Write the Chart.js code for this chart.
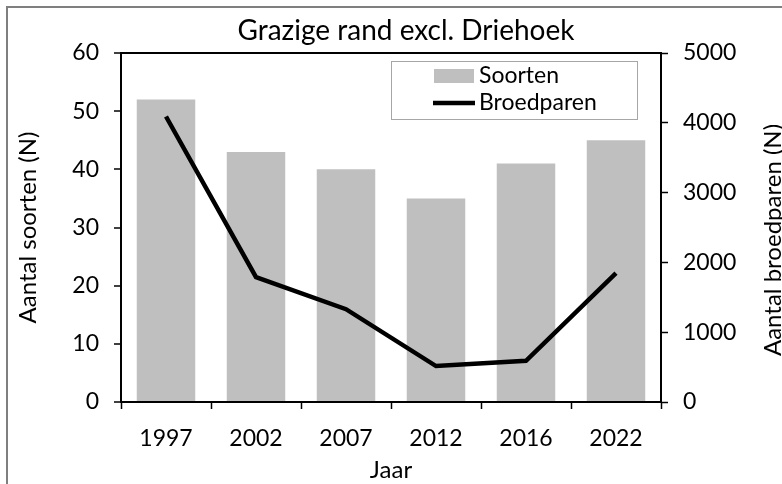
<!DOCTYPE html>
<html>
<head>
<meta charset="utf-8">
<script src="https://cdn.jsdelivr.net/npm/chart.js@4.4.1/dist/chart.umd.min.js"></script>
<style>
    html, body { margin: 0; padding: 0; background: #fff; }
    #wrap { position: relative; width: 782px; height: 484px; overflow: hidden; }
    #frame {
        position: absolute; left: 6px; top: 6px; width: 800px; height: 500px;
        border-left: 2px solid #7f7f7f; border-top: 2px solid #7f7f7f;
    }
    canvas { position: absolute; left: 0; top: 0; }
</style>
</head>
<body>
<div id="wrap">
    <div id="frame"></div>
    <canvas id="chart" width="782" height="484"></canvas>
</div>
<script>
// gegevens
const jaren = ['1997', '2002', '2007', '2012', '2016', '2022'];
const soorten = [52, 43, 40, 35, 41, 45];
const broedparen = [4090, 1790, 1330, 515, 590, 1845];
const soortenTicks = [0, 10, 20, 30, 40, 50, 60];
const broedTicks = [0, 1000, 2000, 3000, 4000, 5000];

const FONT = 'Lato';
const tickFont = { family: FONT, size: 23 };
const titel = 'Grazige rand excl. Driehoek';

// titel, legenda in het plotvlak + rechter astitel
const extraPlugin = {
    id: 'extra',
    afterDraw(chart) {
        const ctx = chart.ctx;
        const bar = chart.data.datasets.find(d => d.label === 'Soorten');
        const line = chart.data.datasets.find(d => d.label === 'Broedparen');
        ctx.save();
        ctx.fillStyle = '#000';
        ctx.textBaseline = 'middle';
        ctx.textAlign = 'center';
        ctx.font = '28px ' + FONT;
        ctx.fillText(titel, 406, 31);
        // legenda kader
        ctx.strokeStyle = '#a6a6a6';
        ctx.lineWidth = 1;
        ctx.strokeRect(391.5, 61.5, 246, 58);
        ctx.fillStyle = bar.backgroundColor;
        ctx.fillRect(434, 69, 40, 14);
        ctx.strokeStyle = line.borderColor;
        ctx.lineWidth = 4.5;
        ctx.beginPath();
        ctx.moveTo(433, 103);
        ctx.lineTo(475, 103);
        ctx.stroke();
        ctx.fillStyle = '#000';
        ctx.font = '23px ' + FONT;
        ctx.textAlign = 'left';
        ctx.fillText(bar.label, 479, 76);
        ctx.fillText(line.label, 479, 103);
        // rechter astitel, van onder naar boven
        ctx.translate(773, 240);
        ctx.rotate(-Math.PI / 2);
        ctx.textAlign = 'center';
        ctx.font = '24px ' + FONT;
        ctx.fillText('Aantal broedparen (N)', 0, 0);
        ctx.restore();
    }
};

function initChart() {
    const ctx = document.getElementById('chart').getContext('2d');
    new Chart(ctx, {
        type: 'bar',
        data: {
            labels: jaren,
            datasets: [
                {
                    type: 'line',
                    label: 'Broedparen',
                    data: broedparen,
                    yAxisID: 'y1',
                    borderColor: '#000',
                    borderWidth: 4.5,
                    pointRadius: 0,
                    tension: 0,
                    order: 0
                },
                {
                    label: 'Soorten',
                    data: soorten,
                    yAxisID: 'y',
                    backgroundColor: '#bfbfbf',
                    barPercentage: 0.65,
                    categoryPercentage: 1,
                    order: 1
                }
            ]
        },
        options: {
            responsive: false,
            animation: false,
            devicePixelRatio: 1,
            layout: { padding: { top: 53, left: 0, right: 0, bottom: 0 } },
            plugins: {
                legend: { display: false },
                tooltip: { enabled: false },
                title: { display: false }
            },
            scales: {
                x: {
                    offset: true,
                    grid: { offset: true, drawOnChartArea: false, tickLength: 7, tickColor: '#000', tickWidth: 1.5 },
                    border: { color: '#000', width: 2 },
                    ticks: { color: '#000', font: tickFont, padding: 16, maxRotation: 0 },
                    title: { display: true, text: 'Jaar', color: '#000', font: { family: FONT, size: 24, lineHeight: 1 }, padding: { top: 0, bottom: 2 } },
                    afterFit(scale) { scale.height = 82; }
                },
                y: {
                    position: 'left',
                    min: 0,
                    max: 60,
                    afterBuildTicks(scale) { scale.ticks = soortenTicks.map(v => ({ value: v })); },
                    grid: {
                        tickLength: 7,
                        tickColor: '#000',
                        tickWidth: 1.5,
                        lineWidth: 2,
                        color: c => (c.tick && c.tick.value === 60 ? '#000' : 'rgba(0,0,0,0)')
                    },
                    border: { color: '#000', width: 2 },
                    ticks: { color: '#000', font: tickFont, padding: 15, callback: v => String(v) },
                    title: { display: true, text: 'Aantal soorten (N)', color: '#000', font: { family: FONT, size: 24 }, padding: { top: 14 } },
                    afterFit(scale) { scale.width = 121; }
                },
                y1: {
                    position: 'right',
                    min: 0,
                    max: 5000,
                    afterBuildTicks(scale) { scale.ticks = broedTicks.map(v => ({ value: v })); },
                    grid: { drawOnChartArea: false, tickLength: 7, tickColor: '#000', tickWidth: 1.5 },
                    border: { color: '#000', width: 2 },
                    ticks: { color: '#000', font: tickFont, padding: 15, callback: v => String(v) },
                    afterFit(scale) { scale.width = 121; }
                }
            }
        },
        plugins: [extraPlugin]
    });
}

document.addEventListener('DOMContentLoaded', () => {
    initChart();
});
</script>
</body>
</html>
